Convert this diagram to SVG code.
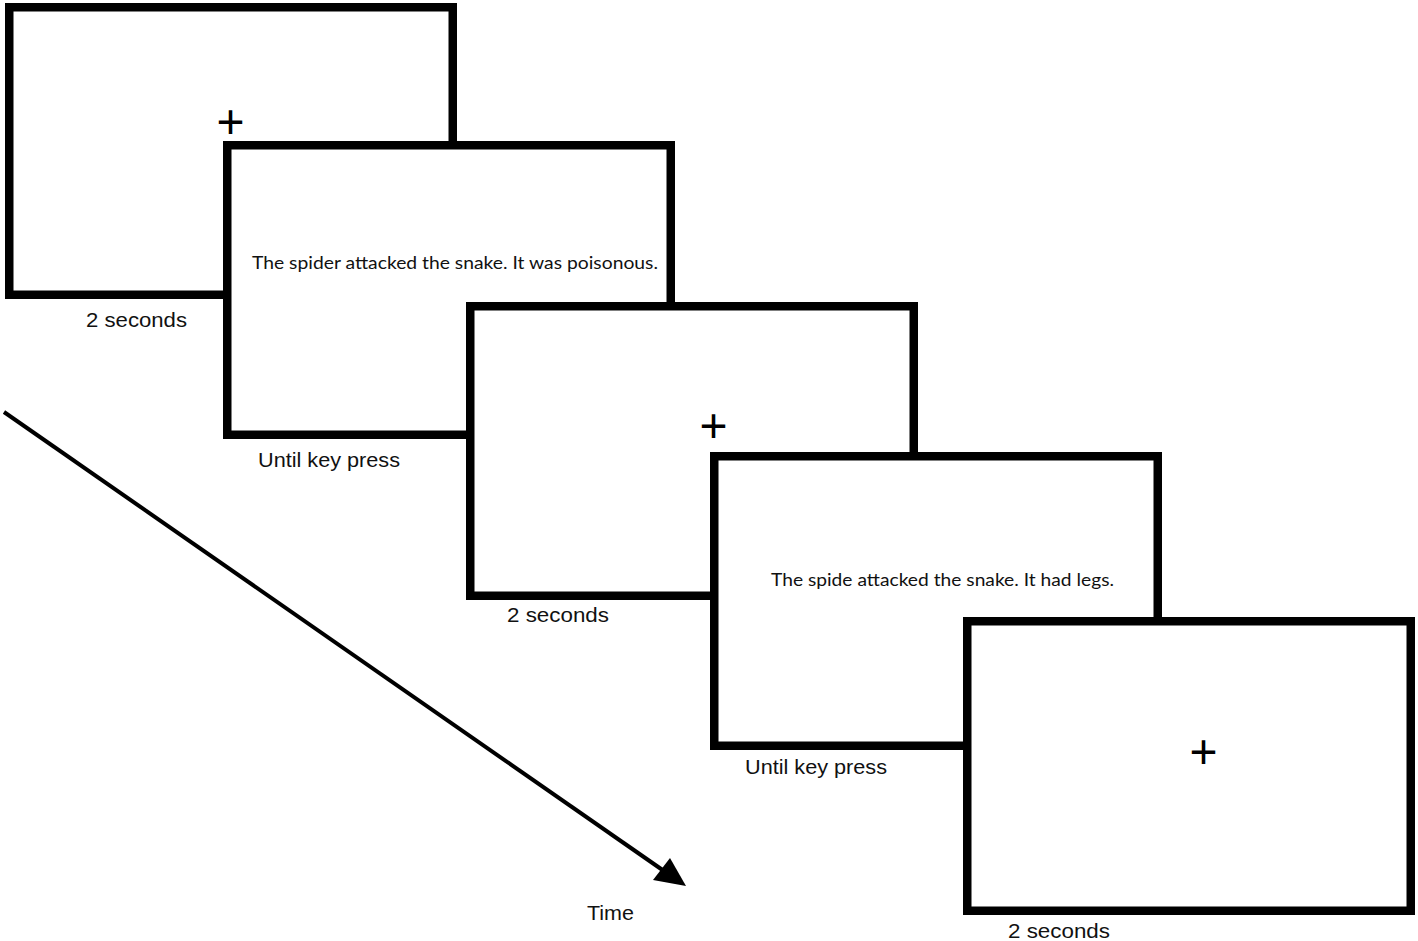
<svg xmlns="http://www.w3.org/2000/svg" width="1418" height="941" viewBox="0 0 1418 941">
<style>
.scr{fill:#fff;stroke:#000;stroke-width:8.5}
.lbl{font-family:"Liberation Sans",Arial,sans-serif;font-size:21px;fill:#111}
.sen{font-family:Lato,"Open Sans",sans-serif;font-size:18px;fill:#111}
.fix{font-family:"Liberation Sans",Arial,sans-serif;font-size:48px;fill:#000;text-anchor:middle}
</style>
<rect width="1418" height="941" fill="#fff"/>
<g id="screen1">
<rect class="scr" x="9.25" y="7.25" width="443.5" height="287.5"/>
<text class="fix" x="230.5" y="137.5">+</text>
<text class="lbl" x="86" y="327" textLength="101" lengthAdjust="spacingAndGlyphs">2 seconds</text>
</g>
<g id="screen2">
<rect class="scr" x="227.25" y="145.25" width="443.5" height="289.5"/>
<text class="sen" x="252" y="269" textLength="406" lengthAdjust="spacingAndGlyphs">The spider attacked the snake. It was poisonous.</text>
<text class="lbl" x="258" y="467" textLength="142" lengthAdjust="spacingAndGlyphs">Until key press</text>
</g>
<g id="screen3">
<rect class="scr" x="470.25" y="306.25" width="443.5" height="289.5"/>
<text class="fix" x="713.5" y="442">+</text>
<text class="lbl" x="507" y="622" textLength="102" lengthAdjust="spacingAndGlyphs">2 seconds</text>
</g>
<g id="screen4">
<rect class="scr" x="714.25" y="456.25" width="443.5" height="289.5"/>
<text class="sen" x="771" y="586" textLength="343" lengthAdjust="spacingAndGlyphs">The spide attacked the snake. It had legs.</text>
<text class="lbl" x="745" y="774" textLength="142" lengthAdjust="spacingAndGlyphs">Until key press</text>
</g>
<g id="screen5">
<rect class="scr" x="967.25" y="621.25" width="443.5" height="289.5"/>
<text class="fix" x="1203.5" y="767.5">+</text>
<text class="lbl" x="1008" y="938" textLength="102" lengthAdjust="spacingAndGlyphs">2 seconds</text>
</g>
<g id="connectors">
<line x1="4" y1="412" x2="664" y2="871" stroke="#000" stroke-width="4"/>
<polygon points="686,886 653,880 670,858" fill="#000"/>
</g>
<g id="time-label">
<text class="lbl" x="587" y="920" textLength="47" lengthAdjust="spacingAndGlyphs">Time</text>
</g>
</svg>
